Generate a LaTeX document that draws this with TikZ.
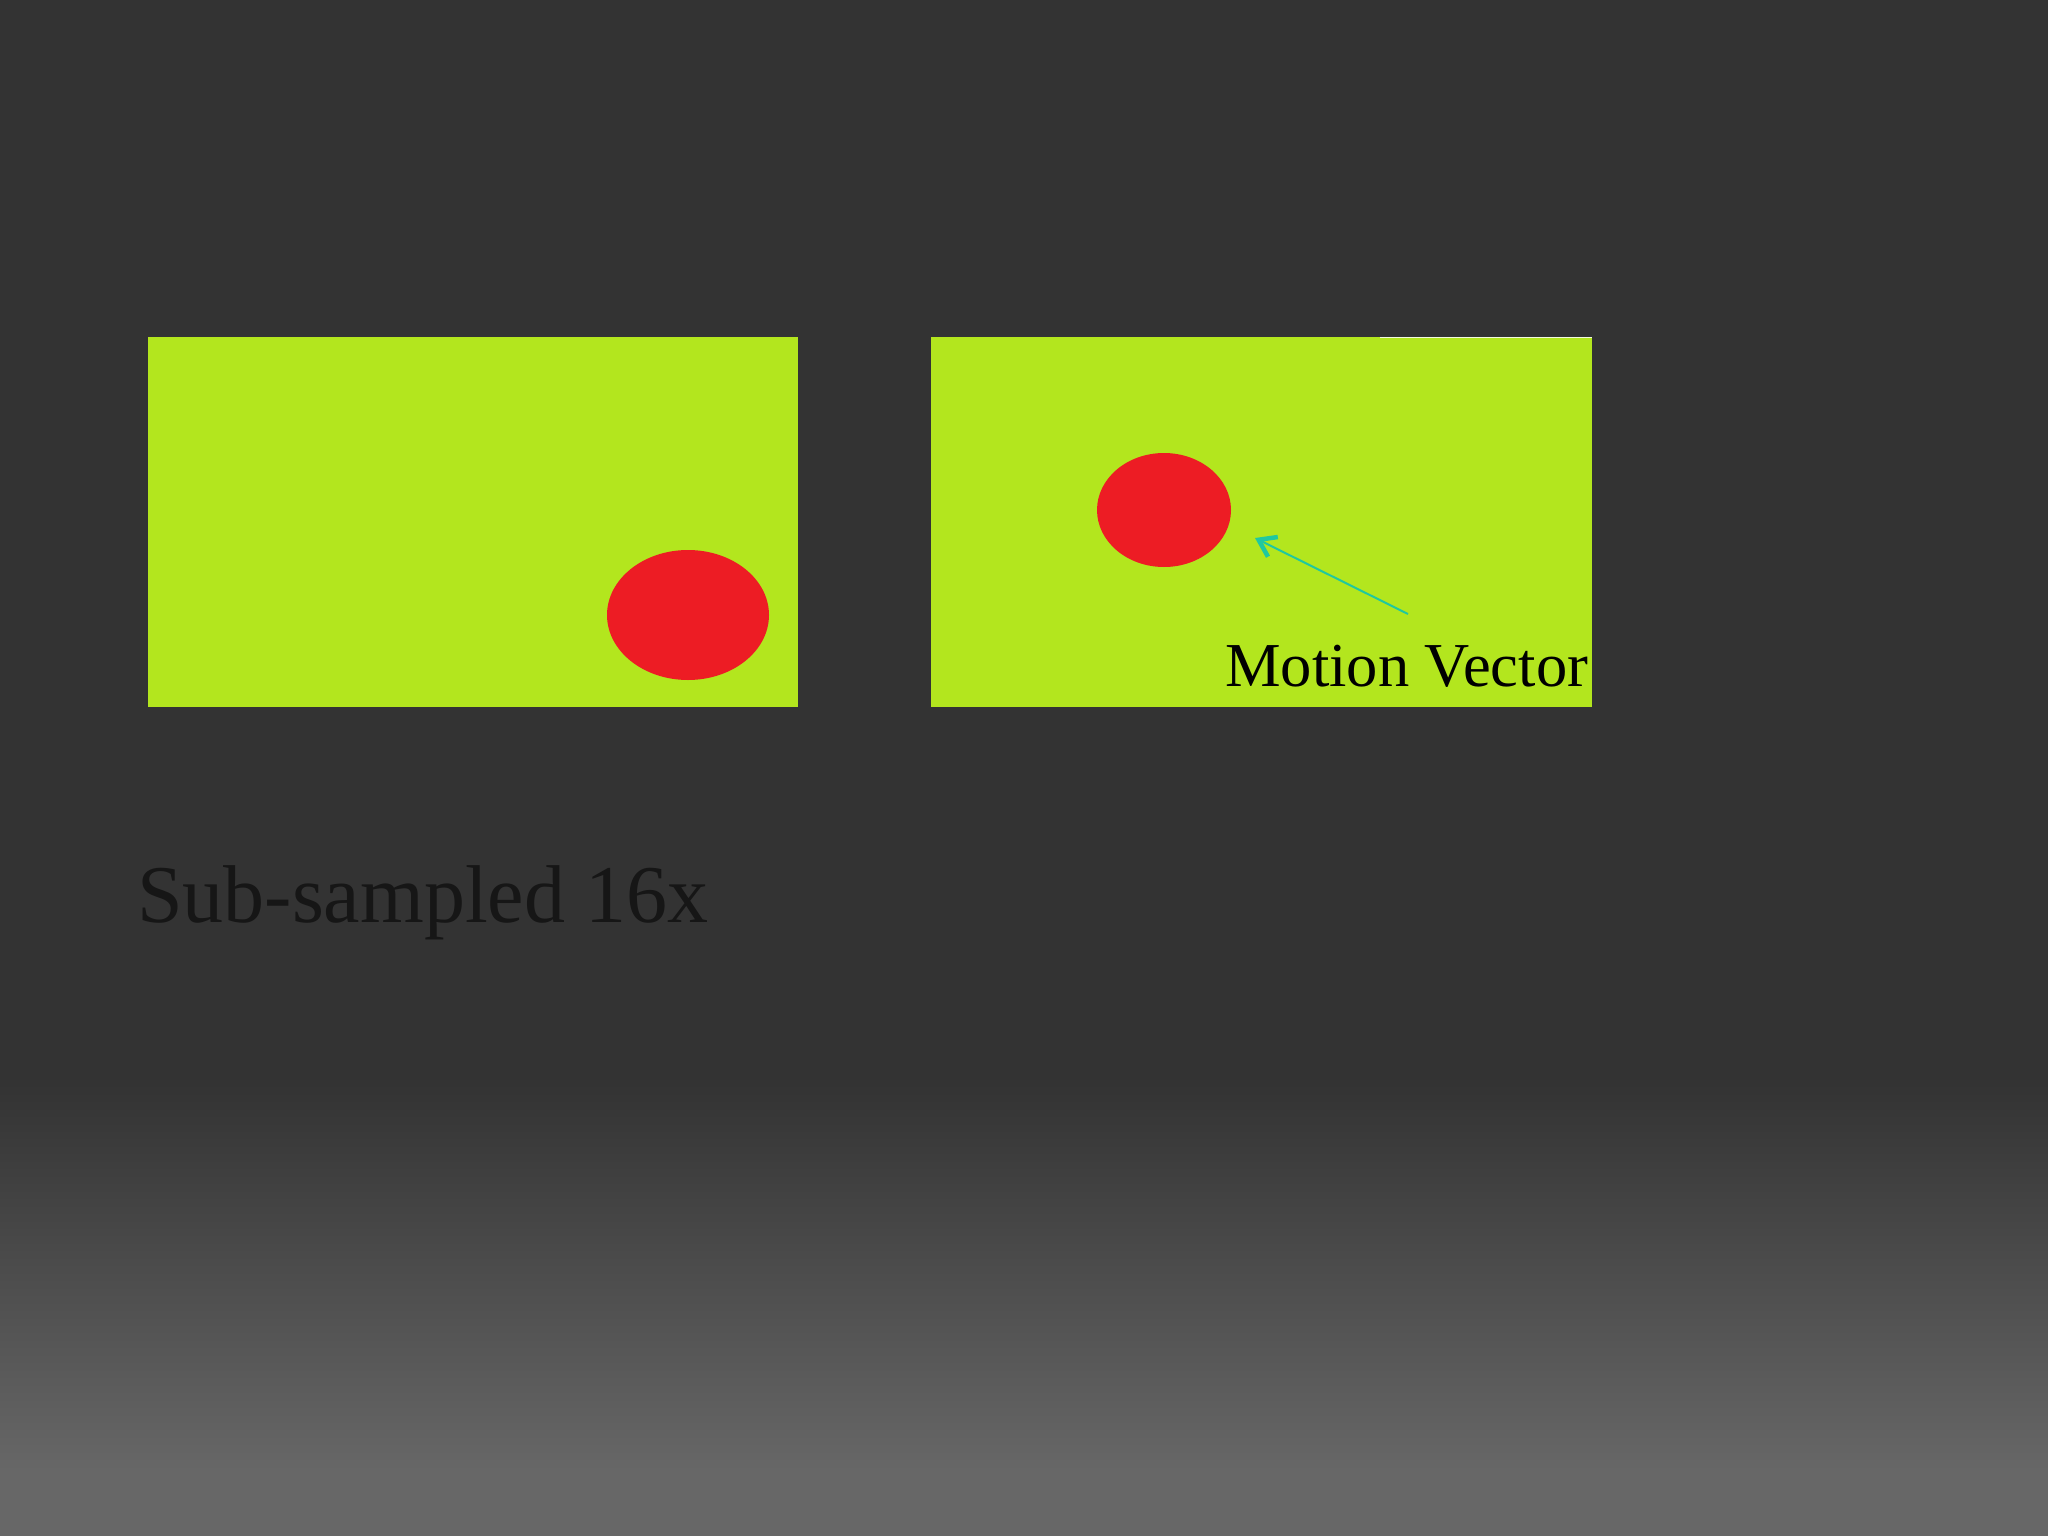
\documentclass[tikz,border=0pt]{standalone}
\usepackage{fontspec}
\setmainfont{Liberation Serif}
\usetikzlibrary{arrows.meta,shapes.geometric}
\definecolor{bgdark}{HTML}{333333}
\definecolor{bglight}{HTML}{676767}
\definecolor{lime}{HTML}{B3E61E}
\definecolor{ballred}{HTML}{ED1C24}
\definecolor{vec}{HTML}{20C8A0}
\definecolor{captext}{HTML}{161616}
\tikzset{
  frame/.style={draw=none, fill=lime, rectangle, inner sep=0pt, anchor=north west},
  ball/.style={draw=none, fill=ballred, ellipse, inner sep=0pt},
  vector/.style={draw=vec, line width=2pt, -{Straight Barb[length=16pt,width=22pt,line width=4.5pt]}},
}
\begin{document}
\begin{tikzpicture}[x=1pt,y=-1pt]
\useasboundingbox (0,0) rectangle (2048,1536);
\fill[bgdark] (0,0) rectangle (2048,1084);
\shade[top color=bgdark, bottom color=bglight] (0,1083) rectangle (2048,1471);
\fill[bglight] (0,1470) rectangle (2048,1536);
% frames
\node[frame, minimum width=650pt, minimum height=370pt] (f1) at (148,337) {};
\node[frame, minimum width=661pt, minimum height=370pt] (f2) at (931,337) {};
\draw[white!85!lime, line width=1.5pt] (1380,337.5) -- (1592,337.5);
% balls
\node[ball, minimum width=162pt, minimum height=130pt] (b1) at (688,615) {};
\node[ball, minimum width=134pt, minimum height=114pt] (b2) at (1164,510) {};
% motion vector
\coordinate (vtail) at (1408,614);
\coordinate (vhead) at (1255,538);
\draw[vector] (vtail) -- (vhead);
\node[anchor=base west, inner sep=0pt, font=\fontsize{62.5}{70}\selectfont, text=black] (mv) at (1225,686) {Motion Vector};
\node[anchor=base west, inner sep=0pt, font=\fontsize{82}{90}\selectfont, text=captext] (cap) at (137,922) {Sub-sampled 16x};
\end{tikzpicture}
\end{document}
